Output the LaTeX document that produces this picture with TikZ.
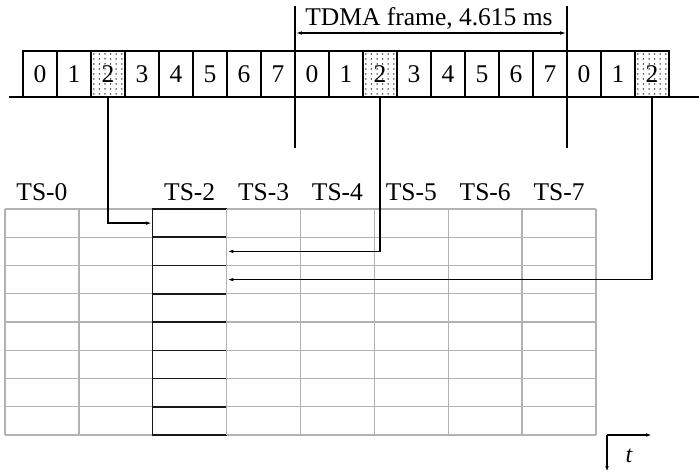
\documentclass[tikz,border=0pt]{standalone}
\usepackage{fontspec}
\setmainfont{Liberation Serif}
\usetikzlibrary{arrows.meta}
\tikzset{
  slotbox/.style={draw=black, line width=1.3pt, minimum width=34pt, minimum height=46pt, inner sep=0pt, font=\fontsize{25.5}{25.5}\selectfont},
  cellbox/.style={draw=black!90, line width=1.5pt, minimum width=74pt, minimum height=28.25pt, inner sep=0pt},
  gridline/.style={draw=gray!60, line width=1.4pt},
  tslabel/.style={anchor=base, inner sep=0pt, font=\fontsize{25.5}{25.5}\selectfont},
  tip/.style={-{Latex[length=6pt,width=3.6pt]}},
  conn/.style={draw=black, line width=1.3pt, tip},
  frameline/.style={draw=black, line width=1.6pt},
  dotfill/.style={fill=black}
}
\begin{document}
\begin{tikzpicture}[x=1pt,y=-1pt]
\useasboundingbox (0,0) rectangle (699,473);
% baseline
\coordinate (bl0) at (9,97);
\coordinate (bl1) at (699,97);
\draw[line width=1.4pt] (bl0) -- (bl1);
% dots in the "2" slots
\foreach \i in {2,10,18}{
  \foreach \dx in {2.8,8.4,14,19.6,25.2,30.8}{
    \foreach \yy in {54,59,64,69,74,79,84,89,94}{
      \fill[dotfill] ({23+34*\i+\dx},\yy) circle (0.75pt);
    }
  }
}
% slots
\foreach \i/\lab in {0/0,1/1,2/2,3/3,4/4,5/5,6/6,7/7,8/0,9/1,10/2,11/3,12/4,13/5,14/6,15/7,16/0,17/1,18/2}{
  \node[slotbox] (s\i) at ({23+34*(\i+0.5)},74) {\lab};
}
% frame lines
\coordinate (fa0) at (295,6);
\coordinate (fa1) at (295,148);
\coordinate (fb0) at (567,6);
\coordinate (fb1) at (567,148);
\draw[frameline] (fa0) -- (fa1);
\draw[frameline] (fb0) -- (fb1);
\coordinate (fra) at (295.8,33);
\coordinate (frb) at (566.2,33);
\draw[line width=1.1pt, {Latex[length=6pt,width=3.6pt]}-{Latex[length=6pt,width=3.6pt]}] (fra) -- (frb);
\node[tslabel] (ftext) at (429,26) {TDMA frame, 4.615 ms};
% table grid
\foreach \k in {0,...,8}{
  \draw[gridline] ({5+73.875*\k},209) -- ({5+73.875*\k},435);
}
\foreach \r in {0,...,8}{
  \draw[gridline] (5,{209+28.25*\r}) -- (596,{209+28.25*\r});
}
% TS-2 column cells
\foreach \r in {0,...,7}{
  \node[cellbox] (c\r) at ({5+73.875*2.5},{209+28.25*(\r+0.5)}) {};
}
\draw[gridline] ({5+73.875*3},209) -- ({5+73.875*3},435);
% labels
\foreach \k in {0,2,3,4,5,6,7}{
  \node[tslabel] (ts\k) at ({5+73.875*(\k+0.5)},201) {TS-\k};
}
% connectors
\draw[conn] (s2.south) |- (c0.west);
\draw[conn] (s10.south) |- (c1.east);
\draw[conn] (s18.south) |- (c2.east);
% time axes
\coordinate (tO) at (607,435);
\coordinate (tx) at (652,435);
\coordinate (ty) at (607,472);
\draw[conn, line width=1.5pt] (tO) -- (tx);
\draw[conn, line width=1.5pt] (tO) -- (ty);
\node[font=\fontsize{24}{24}\selectfont\itshape, inner sep=0pt] (tlab) at (629,456) {t};
\end{tikzpicture}
\end{document}
